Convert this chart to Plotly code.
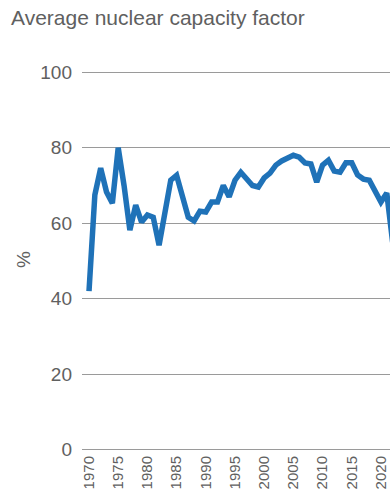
import plotly.graph_objects as go

years = list(range(1970, 2023))
capacity_factor = [
    42.0, 67.5, 74.6, 68.3, 65.3, 80.0, 70.0, 58.2, 64.8, 60.3,
    62.2, 61.6, 54.2, 63.5, 71.4, 72.7, 67.0, 61.6, 60.6, 63.2,
    63.0, 65.6, 65.6, 70.0, 67.0, 71.4, 73.5, 72.0, 70.0, 69.6,
    72.0, 73.3, 75.4, 76.5, 77.2, 78.0, 77.5, 76.0, 75.7, 70.9,
    75.4, 76.7, 73.8, 73.5, 76.0, 76.0, 72.8, 71.7, 71.4, 68.8,
    65.6, 68.0, 55.0,
]
tick_years = list(range(1970, 2021, 5))
y_ticks = [0, 20, 40, 60, 80, 100]

FONT = "Liberation Sans"
TXT = "#606060"

fig = go.Figure()
fig.add_trace(go.Scatter(
    x=years, y=capacity_factor, mode="lines",
    line=dict(color="#1f72b8", width=5.5),
    hoverinfo="skip",
))

# plot area: y=100 at px 72, y=0 at px 450 (3.78 px / unit); pad range slightly
pad = 0.6
px_per = 3.78
fig.update_layout(
    width=390, height=497,
    margin=dict(l=82, r=0, t=72 - pad * px_per, b=47 - pad * px_per),
    paper_bgcolor="white", plot_bgcolor="white",
    showlegend=False,
    font=dict(family=FONT, color=TXT),
    title=dict(
        text="Average nuclear capacity factor",
        x=11 / 390, xanchor="left", xref="container",
        y=1 - 18 / 497, yanchor="middle", yref="container",
        font=dict(size=21, color=TXT, family=FONT),
    ),
    xaxis=dict(
        range=[1968.8, 2021.55],
        tickmode="array", tickvals=tick_years,
        ticktext=[str(t) for t in tick_years],
        tickangle=-90, showgrid=False, zeroline=False,
        showline=False, ticks="",
        tickfont=dict(size=15, color=TXT, family=FONT),
        automargin=False,
    ),
    yaxis=dict(
        range=[-pad, 100 + pad], tickmode="array", tickvals=y_ticks,
        showgrid=True, gridcolor="#9a9a9a", gridwidth=1,
        zeroline=False, showline=False, ticks="",
        ticklabelstandoff=9,
        tickfont=dict(size=19, color=TXT, family=FONT),
        automargin=False,
    ),
    annotations=[dict(
        text="%", textangle=-90, showarrow=False,
        xref="paper", yref="paper",
        x=(23 - 82) / 308, y=(450 - 260) / 378 * (100 / (100 + 2 * pad)) + pad / (100 + 2 * pad),
        xanchor="center", yanchor="middle",
        font=dict(size=19, color=TXT, family=FONT),
    )],
)

fig.write_html(
    "out.html",
    config={"displayModeBar": False},
    post_script="document.body.style.margin='0';document.body.style.overflow='hidden';",
)
